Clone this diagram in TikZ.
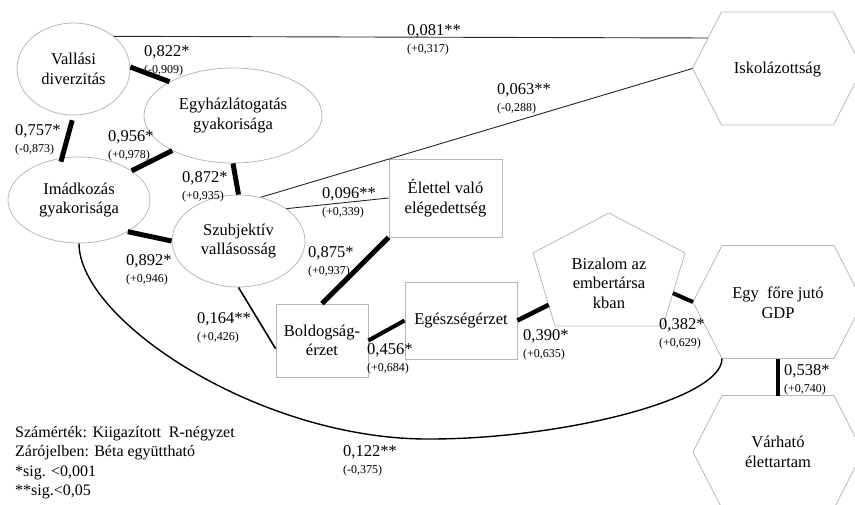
\documentclass[tikz,border=0pt]{standalone}
\usepackage{fontspec}
\setmainfont{Liberation Serif}
\usetikzlibrary{shapes.geometric, calc, positioning}

\tikzset{
  rim/.style={draw=black!28, line width=0.8pt},
  oval/.style={ellipse, rim, inner sep=0pt, align=center, font=\fontsize{16.5}{19.5}\selectfont},
  box/.style={rectangle, rim, inner sep=0pt, align=center, font=\fontsize{16.5}{19.5}\selectfont},
  lbl/.style={inner sep=0pt, align=center, font=\fontsize{16.5}{19.5}\selectfont},
  coef/.style={anchor=north west, inner sep=0pt, align=left, font=\fontsize{16.5}{17}\selectfont},
  legend/.style={anchor=north west, inner sep=0pt, align=left, font=\fontsize{16}{19.5}\selectfont},
  heavy/.style={line width=5pt},
  light/.style={line width=0.9pt, black!85},
  medline/.style={line width=1.6pt},
  curve/.style={line width=1.4pt}
}

\begin{document}
\begin{tikzpicture}[x=1pt,y=-1pt]
    \useasboundingbox (0,0) rectangle (855,504);
    \clip (0,0) rectangle (855,504);

    % vallasossag
    \node[oval, minimum width=113pt, minimum height=92pt] (vall) at (73.5,69) {Vallási\\diverzitás};
    \node[oval, minimum width=178pt, minimum height=95pt] (egyh) at (233,115.5) {Egyházlátogatás\\gyakorisága};
    \node[oval, minimum width=142pt, minimum height=86pt] (imad) at (79,200) {Imádkozás\\gyakorisága};
    \node[oval, minimum width=133pt, minimum height=92pt] (szub) at (238.5,241) {Szubjektív\\vallásosság};

    \node[box, minimum width=113pt, minimum height=78pt] (elet) at (445.5,198) {Élettel való\\elégedettség};
    \node[box, minimum width=92pt, minimum height=73pt] (bold) at (322,340.5) {Boldogság-\\érzet};
    \node[box, minimum width=112pt, minimum height=77pt] (eges) at (461,320.5) {Egészségérzet};

    % bizalom
    \draw[rim] (533,253) coordinate (biza-w) -- (609,213) coordinate (biza-n) -- (685,253) coordinate (biza-e)
        -- (663,326) coordinate (biza-se) -- (555,326) coordinate (biza-sw) -- cycle;
    \node[lbl] (biza) at (609,283) {Bizalom az\\embertársa\\kban};

    % hatszogek
    \foreach \n/\cx/\cy in {isko/777.5/68.5, gdp/778/302, varh/778/452}
        \draw[rim] (\cx-85,\cy) coordinate (\n-w) -- (\cx-56,\cy-56.5) coordinate (\n-nw)
            -- (\cx+56,\cy-56.5) coordinate (\n-ne) -- (\cx+85,\cy) coordinate (\n-e)
            -- (\cx+56,\cy+56.5) coordinate (\n-se) -- (\cx-56,\cy+56.5) coordinate (\n-sw) -- cycle;

    \node[lbl] (isko) at (777.5,70) {Iskolázottság};
    \node[lbl] (gdp) at (778,303) {Egy~ főre jutó\\GDP};
    \node[lbl] (varh) at (778,452) {Várható\\élettartam};

    % kapcsolatok
    \draw[heavy] (vall.2) -- (egyh.152);
    \draw[heavy, shorten <=5pt, shorten >=-4pt] (vall.-90) -- (imad.112);
    \draw[heavy] (egyh.-150) -- (imad.29);
    \draw[heavy] (egyh.south) -- (szub.north);
    \draw[heavy] (imad.-33) -- (szub.west);
    \draw[light] (vall.39) -- ($(isko-w)!0.54!(isko-nw)$);
    \draw[light] (szub.63) -- (isko-w);
    \draw[light] (szub.34) -- (elet.west);
    \draw[heavy] (elet.south west) -- (bold.north);
    \draw[medline] (szub.south) -- (bold.-170);
    \draw[heavy, line width=4pt] (bold.east) -- (eges.west);
    \draw[heavy, line width=4.5pt] (eges.east) -- ($(biza-sw)!0.29!(biza-w)$);
    \draw[heavy, line width=4pt] ($(biza-se)!0.45!(biza-e)$) -- (gdp-w);
    \draw[heavy, line width=4.5pt] ($(gdp-sw)!0.5!(gdp-se)$) -- ($(varh-nw)!0.5!(varh-ne)$);
    \draw[curve] (imad.south) .. controls +(0,77) and (260,440) .. (430,439)
        .. controls (560,439) and (722,400) .. (gdp-sw);

    % egyutthatok
    \node[coef] (k822) at (144,45) {0,822*\\{\fontsize{12}{14}\selectfont(-0,909)}};
    \node[coef] (k757) at (15,124) {0,757*\\{\fontsize{12}{14}\selectfont(-0,873)}};
    \node[coef] (k956) at (108,130) {0,956*\\{\fontsize{12}{14}\selectfont(+0,978)}};
    \node[coef] (k872) at (182,171) {0,872*\\{\fontsize{12}{14}\selectfont(+0,935)}};
    \node[coef] (k892) at (126,254) {0,892*\\{\fontsize{12}{14}\selectfont(+0,946)}};
    \node[coef] (k096) at (322,187) {0,096**\\{\fontsize{12}{14}\selectfont(+0,339)}};
    \node[coef] (k875) at (308,246) {0,875*\\{\fontsize{12}{14}\selectfont(+0,937)}};
    \node[coef] (k164) at (197,312) {0,164**\\{\fontsize{12}{14}\selectfont(+0,426)}};
    \node[coef] (k456) at (367,343) {0,456*\\{\fontsize{12}{14}\selectfont(+0,684)}};
    \node[coef] (k390) at (523,329) {0,390*\\{\fontsize{12}{14}\selectfont(+0,635)}};
    \node[coef] (k382) at (659,318) {0,382*\\{\fontsize{12}{14}\selectfont(+0,629)}};
    \node[coef] (k538) at (784,364) {0,538*\\{\fontsize{12}{14}\selectfont(+0,740)}};
    \node[coef] (k081) at (407,24) {0,081**\\{\fontsize{12}{14}\selectfont(+0,317)}};
    \node[coef] (k063) at (497,83) {0,063**\\{\fontsize{12}{14}\selectfont(-0,288)}};
    \node[coef] (k122) at (343,445) {0,122**\\{\fontsize{12}{14}\selectfont(-0,375)}};

    \node[legend] (key) at (15,426) {Számérték: Kiigazított~ R-négyzet\\Zárójelben: Béta együttható\\*sig. <0,001\\**sig.<0,05};
\end{tikzpicture}
\end{document}
